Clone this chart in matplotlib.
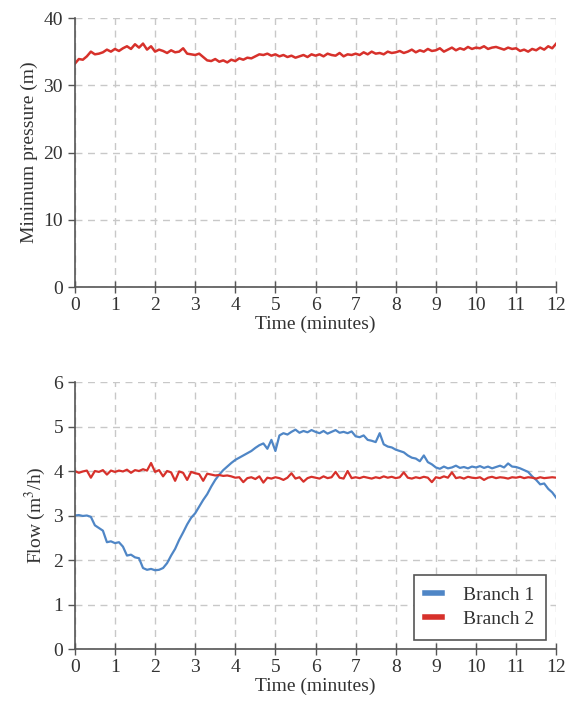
import matplotlib
matplotlib.use('Agg')
import matplotlib.pyplot as plt
import numpy as np

plt.rcParams['font.family'] = ['Liberation Serif', 'DejaVu Serif']
plt.rcParams['mathtext.fontset'] = 'stix'

# time axis, one reading every 0.1 minute
t = np.arange(121) / 10

# minimum pressure (m)
pressure = [
    33.2, 33.9, 33.8, 34.3, 35.0, 34.6, 34.7, 34.9, 35.3, 35.0,
    35.4, 35.1, 35.5, 35.8, 35.4, 36.1, 35.6, 36.2, 35.3, 35.8,
    35.0, 35.3, 35.1, 34.8, 35.2, 34.9, 35.0, 35.5, 34.7, 34.6,
    34.5, 34.7, 34.2, 33.7, 33.6, 33.9, 33.5, 33.7, 33.4, 33.8,
    33.6, 34.0, 33.8, 34.1, 34.0, 34.3, 34.6, 34.5, 34.7, 34.4,
    34.6, 34.3, 34.5, 34.2, 34.4, 34.1, 34.3, 34.5, 34.2, 34.6,
    34.4, 34.6, 34.3, 34.7, 34.5, 34.4, 34.8, 34.3, 34.6, 34.5,
    34.7, 34.5, 34.9, 34.6, 35.0, 34.7, 34.8, 34.6, 35.0, 34.8,
    34.9, 35.1, 34.8, 35.0, 35.3, 34.9, 35.2, 35.0, 35.4, 35.1,
    35.2, 35.5, 35.0, 35.3, 35.6, 35.2, 35.5, 35.3, 35.7, 35.4,
    35.6, 35.5, 35.8, 35.4, 35.6, 35.7, 35.5, 35.3, 35.6, 35.4,
    35.5, 35.1, 35.3, 35.0, 35.4, 35.2, 35.6, 35.3, 35.8, 35.5,
    36.2]

# flow (m3/h)
branch1 = [
    3.00, 3.01, 2.99, 3.00, 2.97, 2.78, 2.72, 2.66, 2.40, 2.42,
    2.38, 2.40, 2.30, 2.10, 2.12, 2.06, 2.04, 1.82, 1.78, 1.80,
    1.77, 1.78, 1.82, 1.93, 2.10, 2.25, 2.45, 2.62, 2.80, 2.95,
    3.05, 3.20, 3.35, 3.48, 3.65, 3.80, 3.92, 4.02, 4.10, 4.18,
    4.25, 4.30, 4.35, 4.40, 4.45, 4.52, 4.58, 4.62, 4.50, 4.70,
    4.45, 4.80, 4.85, 4.82, 4.88, 4.93, 4.86, 4.90, 4.87, 4.92,
    4.88, 4.85, 4.90, 4.84, 4.88, 4.92, 4.86, 4.88, 4.85, 4.89,
    4.78, 4.76, 4.80, 4.70, 4.68, 4.65, 4.85, 4.60, 4.55, 4.53,
    4.48, 4.45, 4.42, 4.35, 4.30, 4.28, 4.22, 4.35, 4.20, 4.15,
    4.08, 4.05, 4.10, 4.06, 4.08, 4.12, 4.07, 4.09, 4.06, 4.10,
    4.08, 4.11, 4.07, 4.10, 4.06, 4.09, 4.12, 4.08, 4.17, 4.10,
    4.09, 4.06, 4.02, 3.98, 3.88, 3.80, 3.70, 3.72, 3.60, 3.52,
    3.40]
branch2 = [
    4.00, 3.96, 3.99, 4.01, 3.85, 4.00, 3.98, 4.02, 3.92, 4.01,
    3.98, 4.01, 3.99, 4.03, 3.96, 4.02, 4.00, 4.04, 4.01, 4.18,
    3.98, 4.02, 3.88, 4.00, 3.97, 3.78, 3.99, 3.96, 3.80, 3.98,
    3.95, 3.93, 3.78, 3.94, 3.92, 3.90, 3.91, 3.89, 3.90, 3.88,
    3.85, 3.86, 3.75, 3.84, 3.86, 3.82, 3.88, 3.74, 3.85, 3.83,
    3.86, 3.84, 3.80, 3.85, 3.95, 3.83, 3.86, 3.76, 3.84, 3.87,
    3.85, 3.83, 3.88, 3.84, 3.86, 3.98, 3.85, 3.83, 4.00, 3.84,
    3.86, 3.84, 3.87, 3.85, 3.83, 3.86, 3.84, 3.88, 3.85, 3.87,
    3.84, 3.86, 3.97, 3.85, 3.83, 3.86, 3.84, 3.87, 3.85, 3.75,
    3.86, 3.84, 3.88, 3.85, 3.97, 3.84, 3.86, 3.83, 3.87, 3.85,
    3.84, 3.86, 3.80, 3.85, 3.87, 3.84, 3.86, 3.85, 3.83, 3.86,
    3.85, 3.87, 3.84, 3.86, 3.85, 3.83, 3.86, 3.84, 3.85, 3.86,
    3.85]

RED = '#d7312b'
BLUE = '#4f86c6'
AXC = '#555555'
TXT = '#333333'


def style_axes(ax, ymax, ystep):
    ax.set_xlim(0, 12)
    ax.set_ylim(0, ymax)
    ax.set_xticks(range(13))
    ax.set_yticks(np.arange(0, ymax + 0.01, ystep))
    for s in ['top', 'right']:
        ax.spines[s].set_visible(False)
    for s in ['left', 'bottom']:
        ax.spines[s].set_color(AXC)
        ax.spines[s].set_linewidth(1.2)
    ax.tick_params(axis='x', direction='inout', length=9, width=1, color=AXC,
                   labelsize=14, pad=3, labelcolor=TXT)
    ax.tick_params(axis='y', direction='out', length=5, width=1, color=AXC,
                   labelsize=14, labelcolor=TXT)
    ax.grid(True, color='#c8c8c8', linestyle=(0, (5, 4)), linewidth=1)
    ax.set_axisbelow(True)
    ax.set_xlabel('Time (minutes)', fontsize=14, labelpad=1, color=TXT)


fig = plt.figure(figsize=(5.8, 7.15), dpi=100)

ax1 = fig.add_axes([0.129, 0.5986, 0.830, 0.3762])
ax1.plot(t, pressure, color=RED, lw=1.8)
style_axes(ax1, 40, 10)
ax1.set_ylabel('Minimum pressure (m)', fontsize=14, color=TXT)

ax2 = fig.add_axes([0.129, 0.0923, 0.830, 0.3734])
ax2.plot(t, branch1, color=BLUE, lw=1.6, label='Branch 1')
ax2.plot(t, branch2, color=RED, lw=1.6, label='Branch 2')
style_axes(ax2, 6, 1)
ax2.set_ylabel('Flow (m$^3$/h)', fontsize=14, color=TXT)
leg = ax2.legend(loc='lower right', fontsize=14, handlelength=0.85,
                 fancybox=False, framealpha=1, edgecolor=AXC,
                 bbox_to_anchor=(0.979, 0.034), borderaxespad=0,
                 borderpad=0.6, labelspacing=0.35, handletextpad=1.1)
leg.get_frame().set_linewidth(1.2)
for text in leg.get_texts():
    text.set_color(TXT)
for line in leg.get_lines():
    line.set_linewidth(4)

fig.savefig('out.png', dpi=100)
